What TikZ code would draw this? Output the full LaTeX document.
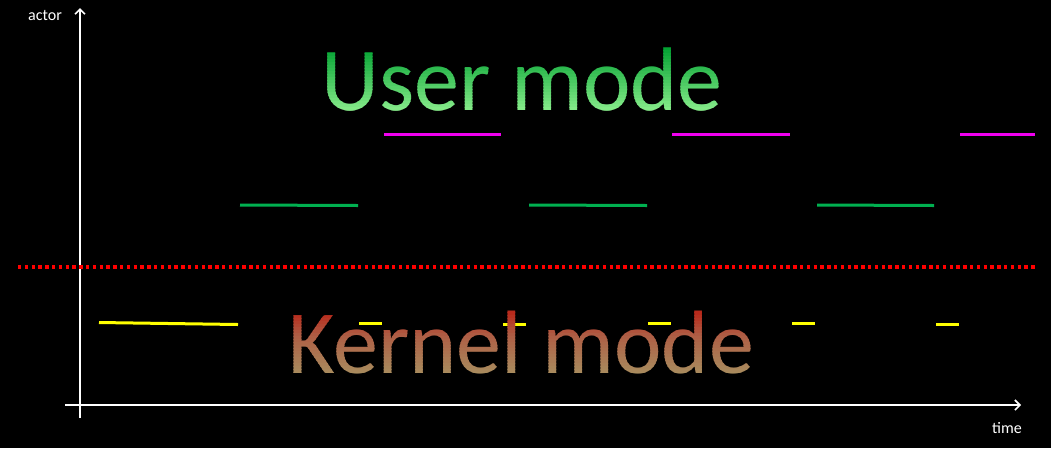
\documentclass[tikz,border=0pt]{standalone}
\usepackage{fontspec}
\setmainfont{Carlito}
\usetikzlibrary{arrows.meta}
\definecolor{ugT}{HTML}{00A030}
\definecolor{ugB}{HTML}{90F090}
\definecolor{kT}{HTML}{B82A1C}
\definecolor{kM}{HTML}{AE5E45}
\definecolor{kB}{HTML}{A89060}
\definecolor{mag}{HTML}{F000F0}
\definecolor{grn}{HTML}{00B050}
\definecolor{ylw}{HTML}{FFFF00}
\tikzset{
  axis/.style={draw=white, line width=1.6pt, -{Straight Barb[length=5pt,width=10pt,line width=1.6pt]}},
  seg/.style={line width=3pt},
  small/.style={text=white, font=\fontsize{16}{18}\selectfont, inner sep=0pt},
  big/.style={font=\fontsize{90}{104}\selectfont, inner sep=0pt, anchor=base}
}
\begin{document}
\begin{tikzpicture}[x=1pt,y=-1pt]
\fill[black] (0,0) rectangle (1051,448);
\useasboundingbox (0,0) rectangle (1051,448);
% axes
\coordinate (yb) at (80,418);
\coordinate (yt) at (80,8);
\coordinate (xl) at (65,405);
\coordinate (xr) at (1021,405);
\draw[axis] (yb) -- (yt);
\draw[axis] (xl) -- (xr);
\node[small] (actor) at (45,15) {actor};
\node[small] (time) at (1007,428) {time};
% red dotted boundary
\coordinate (rl) at (18,267);
\coordinate (rr) at (1036,267);
\draw[red, line width=3.3pt, dash pattern=on 3.3pt off 3.5pt] (rl) -- (rr);
% magenta
\foreach \a/\b [count=\k] in {384/501, 672/790, 960/1035}{
  \coordinate (m\k a) at (\a,134); \coordinate (m\k b) at (\b,134);
  \draw[seg, mag] (m\k a) -- (m\k b);
}
% green
\foreach \a/\b [count=\k] in {240/358, 529/647, 817/934}{
  \coordinate (g\k a) at (\a,205); \coordinate (g\k b) at (\b,205.5);
  \draw[seg, grn] (g\k a) -- (g\k b);
}
% yellow
\coordinate (y0a) at (99,322.5); \coordinate (y0b) at (238,324.5);
\draw[seg, ylw] (y0a) -- (y0b);
\foreach \a/\b/\y [count=\k] in {359/382/323.5, 503/526/324, 648/671/323.5, 792/815/323.5, 936/959/324.5}{
  \coordinate (y\k a) at (\a,\y); \coordinate (y\k b) at (\b,\y);
  \draw[seg, ylw] (y\k a) -- (y\k b);
}
% gradient texts
\foreach \i in {0,...,25}{
  \pgfmathsetmacro\ya{38+\i*3}
  \pgfmathtruncatemacro\pct{max(0,min(100,(\ya-45)/68*100))}
  \begin{scope}
    \clip (0,\ya) rectangle (1051,\ya+3.2);
    \node[big, text=ugB!\pct!ugT] (user\i) at (522,110) {User mode};
  \end{scope}
}
\foreach \i in {0,...,25}{
  \pgfmathsetmacro\ya{303+\i*3}
  \pgfmathtruncatemacro\pa{max(0,min(100,(\ya-312)/22*100))}
  \pgfmathtruncatemacro\pb{max(0,min(100,(\ya-334)/41*100))}
  \ifnum\pb>0
    \colorlet{kc}{kB!\pb!kM}
  \else
    \colorlet{kc}{kM!\pa!kT}
  \fi
  \begin{scope}
    \clip (0,\ya) rectangle (1051,\ya+3.2);
    \node[big, text=kc] (kernel\i) at (521,373) {Kernel mode};
  \end{scope}
}
\end{tikzpicture}
\end{document}
